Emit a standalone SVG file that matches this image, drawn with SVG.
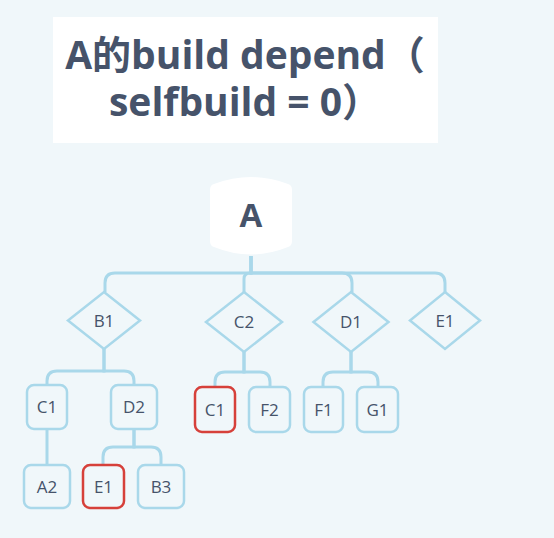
<svg xmlns="http://www.w3.org/2000/svg" width="554" height="538" viewBox="0 0 554 538">
<style>
.bg{fill:#F0F7FA}
.title{font-family:"Open Sans","Noto Sans CJK SC",sans-serif;font-weight:700;font-size:39px;fill:#46536A;text-anchor:middle}
.lbl{font-family:"Open Sans","Noto Sans CJK SC",sans-serif;font-size:17px;fill:#46536A;text-anchor:middle}
.big{font-family:"Open Sans",sans-serif;font-weight:700;font-size:33px;fill:#46536A;text-anchor:middle}
.box{fill:#F0F7FA;stroke:#A9D8EA;stroke-width:2.5}
.red{fill:#F0F7FA;stroke:#D6403A;stroke-width:2.5}
.dia{fill:#F0F7FA;stroke:#A9D8EA;stroke-width:2.5;stroke-linejoin:miter}
#connectors path{fill:none;stroke:#A9D8EA;stroke-width:3}
</style>
<rect class="bg" x="0" y="0" width="554" height="538"/>
<g id="title">
<rect x="53" y="17" width="385" height="126" fill="#FFFFFF"/>
<text class="title" x="245" y="69">A的build depend（</text>
<text class="title" x="245" y="116">selfbuild = 0）</text>
</g>
<g id="connectors">
<path d="M251,256 V273 H115 Q105,273 105,283 V292"/>
<path d="M251,256 V273 H250 Q244,273 244,279 V292"/>
<path d="M251,256 V273 H342 Q352,273 352,283 V292"/>
<path d="M251,256 V273 H435 Q445,273 445,283 V292"/>
<path d="M104,349 V371 H57 Q47,371 47,381 V385"/>
<path d="M104,349 V371 H124 Q134,371 134,381 V385"/>
<path d="M47,429 V465"/>
<path d="M134,429 V447 H113 Q103,447 103,457 V465"/>
<path d="M134,429 V447 H151 Q161,447 161,457 V465"/>
<path d="M244,352 V372 H225 Q215,372 215,382 V387"/>
<path d="M244,352 V372 H260 Q270,372 270,382 V387"/>
<path d="M351,352 V372 H333 Q323,372 323,382 V387"/>
<path d="M351,352 V372 H368 Q378,372 378,382 V387"/>
</g>
<g id="node-A">
<path d="M210,190 Q210,185 214,184 Q251,170 288,184 Q292,185 292,190 V241 Q292,246 288,247 Q251,262 214,247 Q210,246 210,241 Z" fill="#FFFFFF"/>
<text class="big" x="251" y="227">A</text>
</g>
<g id="node-B1">
<polygon class="dia" points="104,292 140,320.5 104,349 68,320.5"/>
<text class="lbl" x="104" y="327">B1</text>
</g>
<g id="node-C2">
<polygon class="dia" points="244,292 282,322 244,352 206,322"/>
<text class="lbl" x="244" y="328">C2</text>
</g>
<g id="node-D1">
<polygon class="dia" points="351,292 388.5,322 351,352 313.5,322"/>
<text class="lbl" x="351" y="328">D1</text>
</g>
<g id="node-E1-top">
<polygon class="dia" points="445,292 480,320.5 445,349 410,320.5"/>
<text class="lbl" x="445" y="327">E1</text>
</g>
<g id="node-C1-b">
<rect class="box" x="27" y="385" width="40" height="44" rx="7"/>
<text class="lbl" x="47" y="413">C1</text>
</g>
<g id="node-D2">
<rect class="box" x="111" y="385" width="46" height="44" rx="7"/>
<text class="lbl" x="134" y="413">D2</text>
</g>
<g id="node-A2">
<rect class="box" x="24" y="465" width="46" height="43" rx="7"/>
<text class="lbl" x="47" y="493">A2</text>
</g>
<g id="node-E1-d">
<rect class="red" x="83" y="465" width="41" height="43" rx="7"/>
<text class="lbl" x="103.5" y="493">E1</text>
</g>
<g id="node-B3">
<rect class="box" x="138" y="465" width="46" height="43" rx="7"/>
<text class="lbl" x="161" y="493">B3</text>
</g>
<g id="node-C1-c">
<rect class="red" x="195" y="387" width="40" height="45" rx="7"/>
<text class="lbl" x="215" y="415.5">C1</text>
</g>
<g id="node-F2">
<rect class="box" x="249" y="387" width="41" height="45" rx="7"/>
<text class="lbl" x="269.5" y="415.5">F2</text>
</g>
<g id="node-F1">
<rect class="box" x="304" y="387" width="39" height="45" rx="7"/>
<text class="lbl" x="323.5" y="415.5">F1</text>
</g>
<g id="node-G1">
<rect class="box" x="357" y="387" width="41" height="45" rx="7"/>
<text class="lbl" x="377.5" y="415.5">G1</text>
</g>
</svg>
